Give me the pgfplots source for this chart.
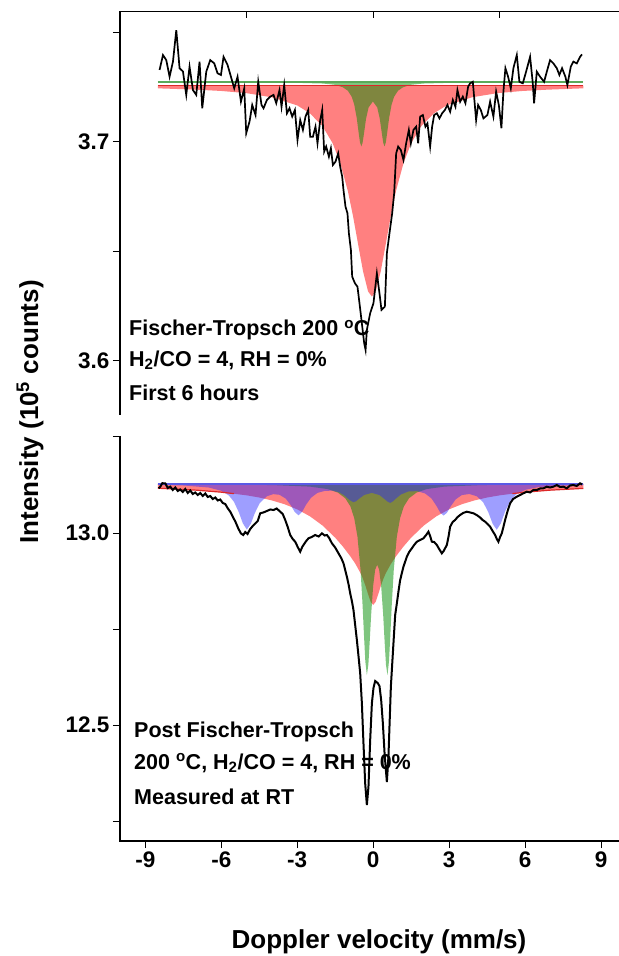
\documentclass[border=0pt]{standalone}
\usepackage{fontspec}
\setmainfont{Liberation Sans}
\usepackage{pgfplots}
\pgfplotsset{compat=1.18}
\definecolor{fillred}{RGB}{255,128,128}
\definecolor{fillgreen}{RGB}{0,140,0}
\definecolor{fillblue}{RGB}{40,40,255}
\definecolor{lineblue}{RGB}{90,90,230}
\definecolor{linered}{RGB}{220,40,40}
\definecolor{linegreen}{RGB}{90,170,90}
\newcommand{\tickfont}{\fontsize{22.5bp}{26bp}\selectfont\bfseries}
\newcommand{\annfont}{\fontsize{21.5bp}{25bp}\selectfont\bfseries}
\newcommand{\labfont}{\fontsize{26bp}{30bp}\selectfont\bfseries}
\pgfplotsset{
  panel/.style={
    scale only axis, anchor=south west, width=499bp,
    xmin=-10, xmax=9.71, clip=false,
    axis line style={draw=none},
    tick align=outside,
    major tick length=7bp, minor tick length=7bp,
    every tick/.style={black, line width=1bp},
    ytick pos=left,
    ticklabel style={font=\tickfont},
  }
}
\begin{document}
\begin{tikzpicture}
\path[use as bounding box] (0,0) rectangle (619bp,956bp);
% ---------------- top panel ----------------
\begin{axis}[panel, at={(120bp,541bp)}, height=403.5bp,
  ymin=3.5753, ymax=3.7596,
  xtick={-5,0,5}, xticklabels={}, xtick pos=right,
  x tick style={yshift=-7bp},
  ytick={3.6,3.7}, yticklabels={3.6,3.7}, minor ytick={3.65,3.75}]
\addplot[draw=none, fill=fillred] coordinates {
(-8.5,3.7257) (-8.5,3.7245) (-7,3.7239) (-6,3.7233) (-5,3.7223) (-4,3.7204) (-3,3.7167) (-2.5,3.7131) (-2,3.7072) (-1.6,3.6994) (-1.3,3.6904) (-1,3.6776) (-0.8,3.6664) (-0.6,3.6536) (-0.4,3.6409) (-0.2,3.6317) (-0.05,3.6294) (0.1,3.6317) (0.3,3.6409) (0.5,3.6536) (0.7,3.6664) (0.9,3.6776) (1.2,3.6904) (1.5,3.6994) (1.9,3.7072) (2.4,3.7131) (2.9,3.7167) (3.9,3.7204) (4.9,3.7223) (5.9,3.7233) (6.9,3.7239) (8.3,3.7245) (8.3,3.7257)} -- cycle;
\addplot[draw=none, fill=fillgreen, fill opacity=0.5] coordinates {
(-8.5,3.7274) (-4,3.7273) (-2,3.7267) (-1.5,3.7261) (-1.2,3.7250) (-1,3.7234) (-0.85,3.7207) (-0.75,3.7172) (-0.65,3.7110) (-0.57,3.7039) (-0.52,3.6998) (-0.47,3.6980) (-0.42,3.6995) (-0.37,3.7033) (-0.28,3.7107) (-0.18,3.7158) (-0.01,3.7185) (0.16,3.7158) (0.26,3.7107) (0.35,3.7033) (0.40,3.6995) (0.45,3.6980) (0.50,3.6998) (0.55,3.7039) (0.63,3.7110) (0.73,3.7172) (0.83,3.7207) (0.98,3.7234) (1.18,3.7250) (1.48,3.7261) (1.98,3.7267) (3.98,3.7273) (8.3,3.7274)} -- cycle;
\addplot[linegreen, line width=1.2bp] coordinates {(-8.5,3.7274) (8.3,3.7274)};
\addplot[linered, line width=1.2bp] coordinates {(-8.5,3.7257) (8.3,3.7257)};
\addplot[black, line width=1.7bp] coordinates {
(-8.437,3.7329) (-8.303,3.7397) (-8.172,3.7374) (-8.042,3.7298) (-7.908,3.7367) (-7.777,3.7511) (-7.647,3.7337) (-7.513,3.7322) (-7.383,3.7215) (-7.253,3.7344) (-7.118,3.7237) (-6.988,3.7215) (-6.858,3.7367) (-6.751,3.7154) (-6.593,3.7321) (-6.435,3.7374) (-6.277,3.7359) (-6.147,3.7314) (-6.013,3.7306) (-5.910,3.7389) (-5.752,3.7352) (-5.618,3.7298) (-5.488,3.7245) (-5.357,3.7298) (-5.223,3.7184) (-5.093,3.7245) (-5.014,3.7040) (-4.884,3.7093) (-4.777,3.7169) (-4.647,3.7123) (-4.540,3.7275) (-4.410,3.7169) (-4.331,3.7154) (-4.197,3.7192) (-4.066,3.7207) (-3.936,3.7215) (-3.829,3.7177) (-3.699,3.7237) (-3.620,3.7161) (-3.514,3.7260) (-3.407,3.7131) (-3.304,3.7154) (-3.198,3.7116) (-3.091,3.7146) (-2.989,3.7009) (-2.882,3.7100) (-2.775,3.7055) (-2.673,3.7116) (-2.566,3.7146) (-2.487,3.7024) (-2.381,3.7024) (-2.278,3.7070) (-2.199,3.6994) (-2.092,3.7100) (-2.013,3.7146) (-1.935,3.6956) (-1.856,3.6979) (-1.749,3.6933) (-1.670,3.6971) (-1.591,3.6895) (-1.489,3.6910) (-1.382,3.6948) (-1.303,3.6887) (-1.224,3.6842) (-1.173,3.6781) (-1.094,3.6705) (-1.015,3.6674) (-0.959,3.6583) (-0.880,3.6507) (-0.829,3.6385) (-0.722,3.6355) (-0.620,3.6339) (-0.541,3.6264) (-0.462,3.6187) (-0.355,3.6081) (-0.300,3.6050) (-0.249,3.6142) (-0.118,3.6218) (0.012,3.6264) (0.146,3.6400) (0.249,3.6309) (0.328,3.6233) (0.462,3.6248) (0.541,3.6492) (0.644,3.6583) (0.750,3.6674) (0.829,3.6766) (0.908,3.6948) (0.987,3.6979) (1.094,3.6963) (1.196,3.6918) (1.303,3.6994) (1.409,3.7055) (1.488,3.6994) (1.591,3.7055) (1.698,3.7070) (1.777,3.6994) (1.856,3.7116) (1.962,3.7123) (2.065,3.7070) (2.144,3.7085) (2.250,3.6979) (2.329,3.7070) (2.408,3.7123) (2.515,3.7131) (2.618,3.7108) (2.724,3.7131) (2.831,3.7146) (2.933,3.7169) (3.040,3.7138) (3.146,3.7192) (3.249,3.7161) (3.328,3.7237) (3.435,3.7184) (3.541,3.7207) (3.644,3.7177) (3.751,3.7253) (3.830,3.7268) (3.936,3.7275) (4.066,3.7100) (4.145,3.7169) (4.252,3.7146) (4.355,3.7108) (4.512,3.7123) (4.619,3.7184) (4.749,3.7116) (4.856,3.7230) (4.963,3.7169) (5.065,3.7063) (5.144,3.7230) (5.223,3.7337) (5.330,3.7298) (5.436,3.7245) (5.539,3.7337) (5.673,3.7397) (5.776,3.7275) (5.910,3.7268) (6.040,3.7321) (6.198,3.7389) (6.305,3.7268) (6.356,3.7177) (6.463,3.7321) (6.593,3.7298) (6.751,3.7275) (6.858,3.7321) (6.988,3.7374) (7.118,3.7359) (7.252,3.7337) (7.355,3.7306) (7.461,3.7337) (7.592,3.7298) (7.671,3.7260) (7.805,3.7344) (7.908,3.7367) (8.042,3.7359) (8.172,3.7389) (8.25,3.7400)};
\end{axis}
\draw[black, line width=1.3bp] (120bp,541bp) -- (120bp,944.5bp) -- (619bp,944.5bp);
% ---------------- bottom panel ----------------
\begin{axis}[panel, at={(120bp,115bp)}, height=405bp,
  ymin=12.198, ymax=13.2526,
  xtick={-9,-6,-3,0,3,6,9}, xticklabels={-9,-6,-3,0,3,6,9}, xtick pos=left,
  ytick={12.5,13.0}, yticklabels={12.5,13.0}, minor ytick={12.25,12.75,13.25}]
\addplot[draw=none, fill=fillred] coordinates {
(-8.5,13.1276) (-8.5,13.1166) (-7,13.1116) (-6,13.1063) (-5,13.0981) (-4.5,13.0924) (-4,13.0848) (-3.5,13.0749) (-3,13.0616) (-2.5,13.0436) (-2,13.0195) (-1.5,12.9878) (-1.2,12.9650) (-0.9,12.9392) (-0.7,12.9195) (-0.5,12.8955) (-0.4,12.8802) (-0.3,12.8617) (-0.2,12.8405) (-0.1,12.8210) (0,12.8126) (0.1,12.8210) (0.2,12.8405) (0.3,12.8617) (0.4,12.8802) (0.5,12.8955) (0.7,12.9195) (0.9,12.9392) (1.2,12.9650) (1.5,12.9878) (2,13.0195) (2.5,13.0436) (3,13.0616) (3.5,13.0749) (4,13.0848) (4.5,13.0924) (5,13.0981) (6,13.1063) (7,13.1116) (8.3,13.1161) (8.3,13.1276)} -- cycle;
\addplot[draw=none, fill=fillgreen, fill opacity=0.5] coordinates {
(-8.5,13.1276) (-8.5,13.1270) (-4,13.1249) (-2.5,13.1208) (-1.8,13.1144) (-1.4,13.1054) (-1.1,13.0903) (-0.9,13.0694) (-0.75,13.0393) (-0.62,12.9904) (-0.5,12.9051) (-0.42,12.8137) (-0.36,12.7299) (-0.31,12.6661) (-0.25,12.6300) (-0.19,12.6574) (-0.14,12.7135) (-0.08,12.7872) (0,12.8628) (0.08,12.9047) (0.1575,12.9172) (0.235,12.9047) (0.315,12.8628) (0.395,12.7872) (0.455,12.7135) (0.505,12.6574) (0.565,12.6300) (0.625,12.6661) (0.675,12.7299) (0.735,12.8137) (0.815,12.9051) (0.935,12.9904) (1.065,13.0393) (1.215,13.0694) (1.415,13.0903) (1.715,13.1054) (2.115,13.1144) (2.815,13.1208) (4.315,13.1249) (8.3,13.1270) (8.3,13.1276)} -- cycle;
\addplot[draw=none, fill=fillblue, fill opacity=0.45] coordinates {
(-8.5,13.1276) (-8.5,13.1254) (-7.5,13.1237) (-6.5,13.1185) (-6,13.1100) (-5.7,13.0977) (-5.5,13.0814) (-5.3,13.0530) (-5.15,13.0255) (-4.99,13.0089) (-4.83,13.0244) (-4.68,13.0510) (-4.48,13.0780) (-4.2,13.0957) (-3.95,13.1012) (-3.7,13.0995) (-3.45,13.0895) (-3.25,13.0720) (-3.1,13.0549) (-2.95,13.0462) (-2.8,13.0558) (-2.65,13.0738) (-2.45,13.0922) (-2.2,13.1045) (-1.9,13.1098) (-1.6,13.1102) (-1.35,13.1061) (-1.15,13.0985) (-1,13.0896) (-0.88,13.0837) (-0.78,13.0803) (-0.68,13.0825) (-0.55,13.0896) (-0.35,13.0992) (-0.05,13.1045) (0.25,13.0988) (0.45,13.0882) (0.57,13.0817) (0.67,13.0786) (0.77,13.0819) (0.9,13.0897) (1.1,13.1005) (1.4,13.1084) (1.75,13.1089) (2.05,13.1030) (2.3,13.0902) (2.5,13.0706) (2.65,13.0530) (2.78,13.0455) (2.91,13.0523) (3.06,13.0692) (3.26,13.0877) (3.5,13.0987) (3.8,13.1016) (4.1,13.0955) (4.35,13.0795) (4.55,13.0539) (4.72,13.0238) (4.88,13.0084) (5.04,13.0247) (5.21,13.0558) (5.41,13.0829) (5.65,13.1006) (6,13.1124) (6.5,13.1191) (7.3,13.1230) (8.3,13.1248) (8.3,13.1276)} -- cycle;
\addplot[lineblue, line width=1.2bp] coordinates {(-8.5,13.1276) (8.3,13.1276)};
\addplot[linered, line width=1.2bp] coordinates {
(-8.5,13.1166) (-7,13.1116) (-6,13.1063) (-5.5,13.1025)};
\addplot[linered, line width=1.2bp] coordinates {
(5.5,13.1025) (6,13.1063) (7,13.1116) (8.3,13.1161)};
\addplot[black, line width=2bp] coordinates {
(-8.476,13.1164) (-8.409,13.1206) (-8.330,13.1296) (-8.212,13.1294) (-8.113,13.1172) (-8.014,13.1206) (-7.915,13.1120) (-7.817,13.1185) (-7.718,13.1094) (-7.619,13.1133) (-7.520,13.1068) (-7.422,13.1146) (-7.323,13.1042) (-7.224,13.1107) (-7.126,13.1016) (-7.027,13.1055) (-6.928,13.0990) (-6.830,13.1042) (-6.731,13.0964) (-6.632,13.1029) (-6.533,13.0938) (-6.435,13.0964) (-6.336,13.0885) (-6.237,13.0924) (-6.138,13.0846) (-6.040,13.0872) (-5.941,13.0781) (-5.842,13.0755) (-5.752,13.0651) (-5.646,13.0555) (-5.539,13.0417) (-5.436,13.0286) (-5.330,13.0122) (-5.223,12.9987) (-5.133,12.9948) (-5.053,13.0026) (-4.963,12.9974) (-4.856,13.0104) (-4.757,13.0182) (-4.658,13.0247) (-4.560,13.0312) (-4.461,13.0513) (-4.342,13.0534) (-4.197,13.0573) (-4.066,13.0612) (-3.936,13.0599) (-3.810,13.0638) (-3.672,13.0555) (-3.573,13.0495) (-3.474,13.0339) (-3.375,13.0156) (-3.277,12.9948) (-3.178,12.9844) (-3.079,12.9773) (-2.980,12.9635) (-2.882,12.9513) (-2.803,12.9635) (-2.752,12.9688) (-2.645,12.9792) (-2.555,12.9862) (-2.428,12.9896) (-2.290,12.9948) (-2.152,12.9909) (-2.025,12.9992) (-1.915,12.9935) (-1.828,12.9948) (-1.737,12.9870) (-1.630,12.9732) (-1.500,12.9622) (-1.370,12.9471) (-1.263,12.9349) (-1.173,12.9211) (-1.105,12.9036) (-1.038,12.8862) (-0.967,12.8646) (-0.908,12.8430) (-0.841,12.8229) (-0.778,12.7995) (-0.711,12.7604) (-0.644,12.7214) (-0.580,12.6797) (-0.513,12.6346) (-0.446,12.5565) (-0.383,12.4523) (-0.316,12.3482) (-0.249,12.2917) (-0.186,12.3393) (-0.118,12.4609) (-0.051,12.5565) (0.012,12.5964) (0.079,12.6146) (0.178,12.6094) (0.249,12.6016) (0.316,12.5651) (0.383,12.5044) (0.454,12.4219) (0.541,12.3516) (0.604,12.4193) (0.699,12.6003) (0.801,12.7128) (0.869,12.7865) (0.936,12.8169) (1.007,12.8516) (1.066,12.8776) (1.196,12.9122) (1.330,12.9383) (1.421,12.9505) (1.528,12.9602) (1.619,12.9688) (1.725,12.9773) (1.856,12.9818) (1.986,12.9862) (2.092,12.9948) (2.183,13.0034) (2.250,12.9922) (2.317,12.9773) (2.408,12.9766) (2.515,12.9688) (2.606,12.9583) (2.712,12.9471) (2.783,12.9531) (2.910,12.9688) (2.981,12.9922) (3.040,13.0164) (3.139,13.0286) (3.237,13.0339) (3.336,13.0417) (3.435,13.0469) (3.553,13.0521) (3.699,13.0555) (3.830,13.0534) (3.961,13.0513) (4.086,13.0469) (4.224,13.0404) (4.323,13.0339) (4.422,13.0294) (4.520,13.0234) (4.619,13.0164) (4.718,13.0052) (4.816,12.9948) (4.883,12.9844) (4.947,12.9773) (5.014,12.9896) (5.081,12.9992) (5.144,13.0156) (5.211,13.0339) (5.310,13.0573) (5.409,13.0773) (5.527,13.0885) (5.673,13.0945) (5.803,13.0990) (5.934,13.1034) (6.068,13.1076) (6.198,13.1055) (6.328,13.1120) (6.463,13.1120) (6.593,13.1159) (6.723,13.1164) (6.857,13.1206) (6.988,13.1185) (7.118,13.1206) (7.252,13.1250) (7.382,13.1198) (7.513,13.1206) (7.647,13.1164) (7.777,13.1237) (7.908,13.1250) (8.042,13.1224) (8.172,13.1294) (8.251,13.1263)};
\end{axis}
\draw[black, line width=1.3bp] (120bp,520bp) -- (120bp,115bp) -- (619bp,115bp);
% ---------------- labels ----------------
\node[rotate=90, font=\labfont] at (30bp,544bp) {Intensity (10\textsuperscript{5} counts)};
\node[font=\labfont] at (379bp,14.3bp) {Doppler velocity (mm/s)};
\node[anchor=west, inner sep=0pt, font=\annfont] at (129bp,626bp) {Fischer-Tropsch 200 \textsuperscript{o}C};
\node[anchor=west, inner sep=0pt, font=\annfont] at (129bp,596bp) {H\textsubscript{2}/CO = 4, RH = 0\%};
\node[anchor=west, inner sep=0pt, font=\annfont] at (129bp,563bp) {First 6 hours};
\node[anchor=west, inner sep=0pt, font=\annfont] at (134bp,224.3bp) {Post Fischer-Tropsch};
\node[anchor=west, inner sep=0pt, font=\annfont] at (134bp,192.7bp) {200 \textsuperscript{o}C, H\textsubscript{2}/CO = 4, RH = 0\%};
\node[anchor=west, inner sep=0pt, font=\annfont] at (134bp,159.3bp) {Measured at RT};
\end{tikzpicture}
\end{document}
